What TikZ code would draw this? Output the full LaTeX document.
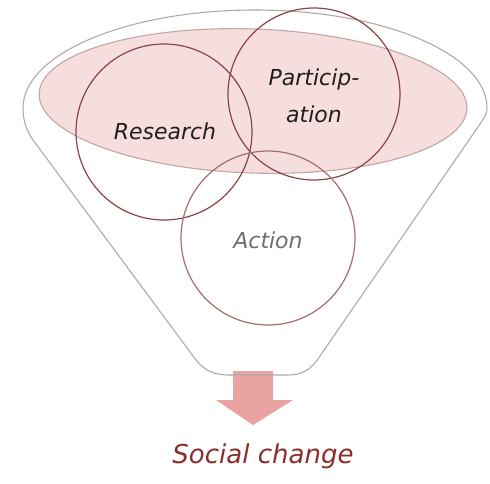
\documentclass[tikz,border=0pt]{standalone}
\usepackage{fontspec}
\setmainfont{DejaVu Sans}
\definecolor{funnelline}{RGB}{178,168,168}
\definecolor{pinkfill}{RGB}{247,222,222}
\definecolor{pinkedge}{RGB}{195,165,165}
\definecolor{ringdark}{RGB}{138,68,68}
\definecolor{ringlight}{RGB}{165,110,110}
\definecolor{arrowpink}{RGB}{233,163,163}
\definecolor{labeldark}{RGB}{34,30,30}
\definecolor{labelgray}{RGB}{115,110,110}
\definecolor{changered}{RGB}{140,45,45}
\begin{document}
\begin{tikzpicture}[x=1pt,y=-1pt,
  funnel/.style={draw=funnelline,line width=1.1pt,line join=round},
  ring/.style={circle,draw=ringdark,line width=1.2pt,minimum size=#1,inner sep=0pt},
  ringlabel/.style={font=\itshape\fontsize{22}{37}\selectfont,text=labeldark,align=center}]
\useasboundingbox[fill=white] (0,0) rectangle (490,483);
% arrow
\fill[arrowpink] (233,371) -- (273,371) -- (273,400) -- (293,400) -- (253,425) -- (216,400) -- (233,400) -- cycle;
% funnel outline
\draw[funnel] (23,108) arc[start angle=180,end angle=0,x radius=232pt,y radius=98pt]
  .. controls (487,114) and (484,118) .. (480,124)
  -- (320,356) .. controls (311,370) and (302,375) .. (288,375)
  -- (230,375) .. controls (214,375) and (205,371) .. (196,360)
  -- (33,140) .. controls (26,130) and (23,120) .. (23,108) -- cycle;
% pink rim ellipse
\draw[draw=pinkedge,fill=pinkfill,line width=1.1pt] (253,101) ellipse[x radius=214pt,y radius=72pt,rotate=-2];
% circles
\node[ring=176pt] (research) at (164,132) {};
\node[ring=172pt] (participation) at (314,94) {};
\node[ring=174pt,draw=ringlight] (action) at (268,238) {};
\node[ringlabel] (researchtxt) at (165,131) {Research};
\node[ringlabel] (participationtxt) at (314,96) {Particip-\\ation};
\node[ringlabel,text=labelgray] (actiontxt) at (268,240) {Action};
\node[font=\itshape\fontsize{26}{30}\selectfont,text=changered] (change) at (263,456) {Social change};
\end{tikzpicture}
\end{document}
